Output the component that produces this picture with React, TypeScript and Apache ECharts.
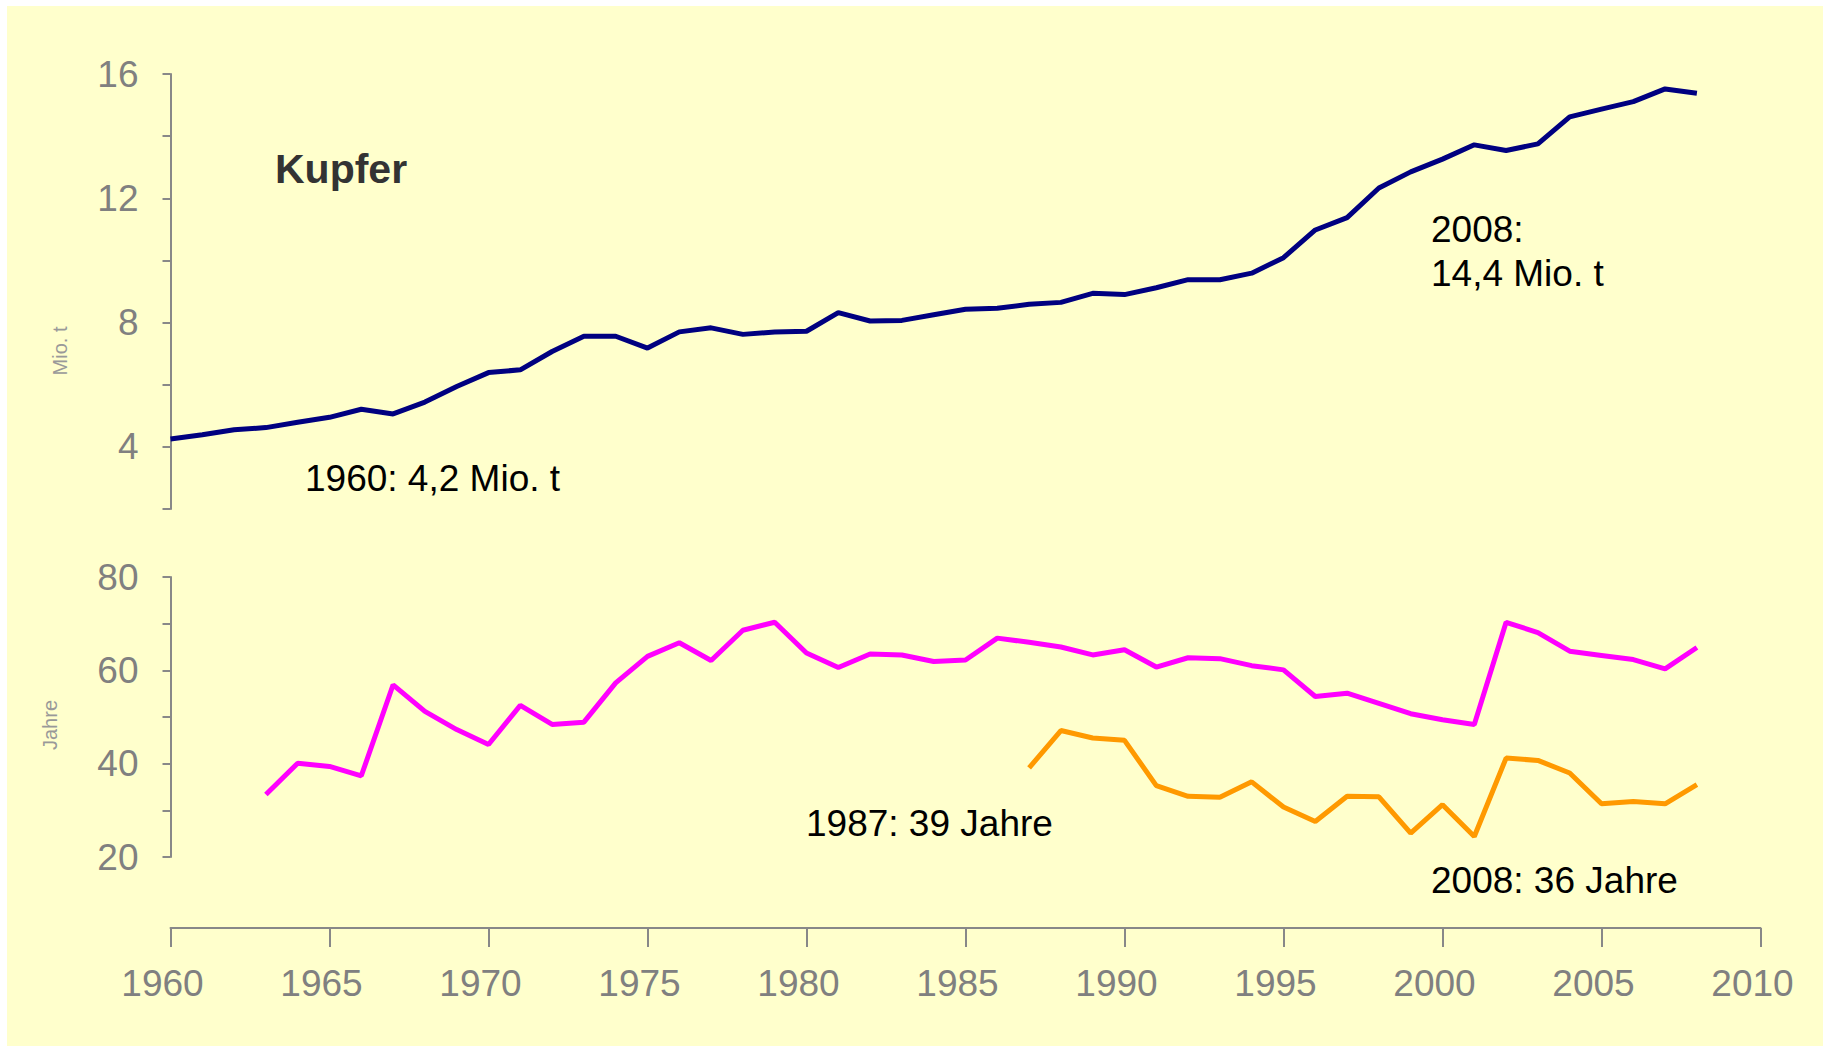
import React, { useEffect, useRef } from "react";
import * as echarts from "echarts";

const years = [
  1960, 1961, 1962, 1963, 1964, 1965, 1966, 1967, 1968, 1969,
  1970, 1971, 1972, 1973, 1974, 1975, 1976, 1977, 1978, 1979,
  1980, 1981, 1982, 1983, 1984, 1985, 1986, 1987, 1988, 1989,
  1990, 1991, 1992, 1993, 1994, 1995, 1996, 1997, 1998, 1999,
  2000, 2001, 2002, 2003, 2004, 2005, 2006, 2007, 2008,
];

// Kupfer-Bergwerksförderung, Mio. t
const production = [
  4.25, 4.39, 4.55, 4.62, 4.79, 4.95, 5.21, 5.06, 5.44, 5.94,
  6.39, 6.48, 7.07, 7.56, 7.56, 7.18, 7.70, 7.83, 7.62, 7.70,
  7.72, 8.32, 8.05, 8.07, 8.25, 8.43, 8.46, 8.59, 8.65, 8.94,
  8.90, 9.12, 9.38, 9.38, 9.59, 10.09, 10.98, 11.38, 12.33, 12.85,
  13.26, 13.72, 13.54, 13.75, 14.62, 14.87, 15.11, 15.52, 15.38,
];

// Reichweite (Jahre) – magenta
const lifetimeA = [
  null, null, null, 33.4, 40.1, 39.4, 37.4, 56.9, 51.2, 47.3,
  44.1, 52.5, 48.4, 48.9, 57.3, 63.0, 65.9, 62.1, 68.6, 70.3,
  63.7, 60.6, 63.5, 63.3, 61.9, 62.2, 66.9, 66.0, 65.0, 63.3,
  64.4, 60.7, 62.7, 62.5, 61.0, 60.1, 54.4, 55.1, 52.9, 50.7,
  49.4, 48.4, 70.3, 68.1, 64.1, 63.2, 62.3, 60.3, 64.9,
];

// Reichweite (Jahre) – orange
const lifetimeB = [
  null, null, null, null, null, null, null, null, null, null,
  null, null, null, null, null, null, null, null, null, null,
  null, null, null, null, null, null, null, 39.1, 47.1, 45.5,
  45.0, 35.3, 33.0, 32.8, 36.1, 30.7, 27.6, 33.0, 32.9, 25.1,
  31.2, 24.4, 41.2, 40.7, 38.0, 31.4, 31.9, 31.4, 35.5,
];

const xTicks = [1960, 1965, 1970, 1975, 1980, 1985, 1990, 1995, 2000, 2005, 2010];

const pairs = (vals: (number | null)[]) =>
  years.map((y, i) => [y, vals[i]]).filter((p) => p[1] !== null);

const GRAY = "#888888";
const LABEL = "#808080";
const FONT = "Liberation Sans, Arial, sans-serif";

export default function App() {
  const ref = useRef<HTMLDivElement>(null);
  useEffect(() => {
    if (!ref.current) return;
    const chart = echarts.init(ref.current, null, { renderer: "svg" });
    const axisLine = { show: true, lineStyle: { color: GRAY, width: 2 } };
    const textStyle = (text: string, size: number) => ({
      text,
      font: `${size}px ${FONT}`,
      fill: "#000000",
      align: "left",
      verticalAlign: "middle",
      textAlign: "left",
      textVerticalAlign: "middle",
    });
    chart.setOption({
      animation: false,
      backgroundColor: "#ffffff",
      textStyle: { fontFamily: FONT },
      grid: [
        { left: 170.5, top: 74, width: 1590, height: 435 },
        { left: 170.5, top: 577, width: 1590, height: 280 },
      ],
      xAxis: [
        { type: "value", gridIndex: 0, min: 1960, max: 2010, show: false },
        {
          type: "value",
          gridIndex: 1,
          min: 1960,
          max: 2010,
          interval: 5,
          offset: 71,
          axisLine,
          axisTick: { show: true, length: 19, lineStyle: { color: GRAY, width: 2 } },
          splitLine: { show: false },
          axisLabel: {
            color: LABEL,
            fontSize: 37,
            fontFamily: FONT,
            margin: 37,
            padding: [0, 16, 0, 0],
            formatter: (v: number) => (xTicks.includes(v) ? String(v) : ""),
          },
        },
      ],
      yAxis: [
        {
          type: "value",
          gridIndex: 0,
          min: 2,
          max: 16,
          interval: 2,
          axisLine,
          axisTick: { show: true, length: 8, lineStyle: { color: GRAY, width: 2 } },
          splitLine: { show: false },
          axisLabel: {
            color: LABEL,
            fontSize: 37,
            fontFamily: FONT,
            margin: 32,
            formatter: (v: number) => (v % 4 === 0 ? String(v) : ""),
          },
        },
        {
          type: "value",
          gridIndex: 1,
          min: 20,
          max: 80,
          interval: 10,
          axisLine,
          axisTick: { show: true, length: 8, lineStyle: { color: GRAY, width: 2 } },
          splitLine: { show: false },
          axisLabel: {
            color: LABEL,
            fontSize: 37,
            fontFamily: FONT,
            margin: 32,
            formatter: (v: number) => (v % 20 === 0 ? String(v) : ""),
          },
        },
      ],
      graphic: [
        {
          type: "rect",
          z: -100,
          silent: true,
          shape: { x: 7, y: 6, width: 1816, height: 1040 },
          style: { fill: "#FFFFCC" },
        },
        {
          type: "text",
          x: 275,
          y: 169,
          style: {
            text: "Kupfer",
            font: `bold 41px ${FONT}`,
            fill: "#333333",
            align: "left",
            verticalAlign: "middle",
            textAlign: "left",
            textVerticalAlign: "middle",
          },
        },
        {
          type: "text",
          x: 60,
          y: 351,
          rotation: Math.PI / 2,
          style: {
            text: "Mio. t",
            font: `20px ${FONT}`,
            fill: "#999999",
            align: "center",
            verticalAlign: "middle",
            textAlign: "center",
            textVerticalAlign: "middle",
          },
        },
        {
          type: "text",
          x: 50,
          y: 725,
          rotation: Math.PI / 2,
          style: {
            text: "Jahre",
            font: `20px ${FONT}`,
            fill: "#999999",
            align: "center",
            verticalAlign: "middle",
            textAlign: "center",
            textVerticalAlign: "middle",
          },
        },
        { type: "text", x: 305, y: 478, style: textStyle("1960: 4,2 Mio. t", 37) },
        {
          type: "text",
          x: 1431,
          y: 251,
          style: { ...textStyle("2008:\n14,4 Mio. t", 37), lineHeight: 44 },
        },
        { type: "text", x: 806, y: 823, style: textStyle("1987: 39 Jahre", 37) },
        { type: "text", x: 1431, y: 880, style: textStyle("2008: 36 Jahre", 37) },
      ],
      series: [
        {
          type: "line",
          xAxisIndex: 0,
          yAxisIndex: 0,
          data: pairs(production),
          showSymbol: false,
          symbol: "none",
          lineStyle: { color: "#000080", width: 5 },
          z: 3,
        },
        {
          type: "line",
          xAxisIndex: 1,
          yAxisIndex: 1,
          data: pairs(lifetimeA),
          showSymbol: false,
          symbol: "none",
          lineStyle: { color: "#FF00FF", width: 5 },
          z: 3,
        },
        {
          type: "line",
          xAxisIndex: 1,
          yAxisIndex: 1,
          data: pairs(lifetimeB),
          showSymbol: false,
          symbol: "none",
          lineStyle: { color: "#FF9900", width: 5 },
          z: 3,
        },
      ],
    });
    return () => chart.dispose();
  }, []);
  return (
    <div
      ref={ref}
      style={{ position: "fixed", left: 0, top: 0, width: 1823, height: 1046 }}
    />
  );
}
